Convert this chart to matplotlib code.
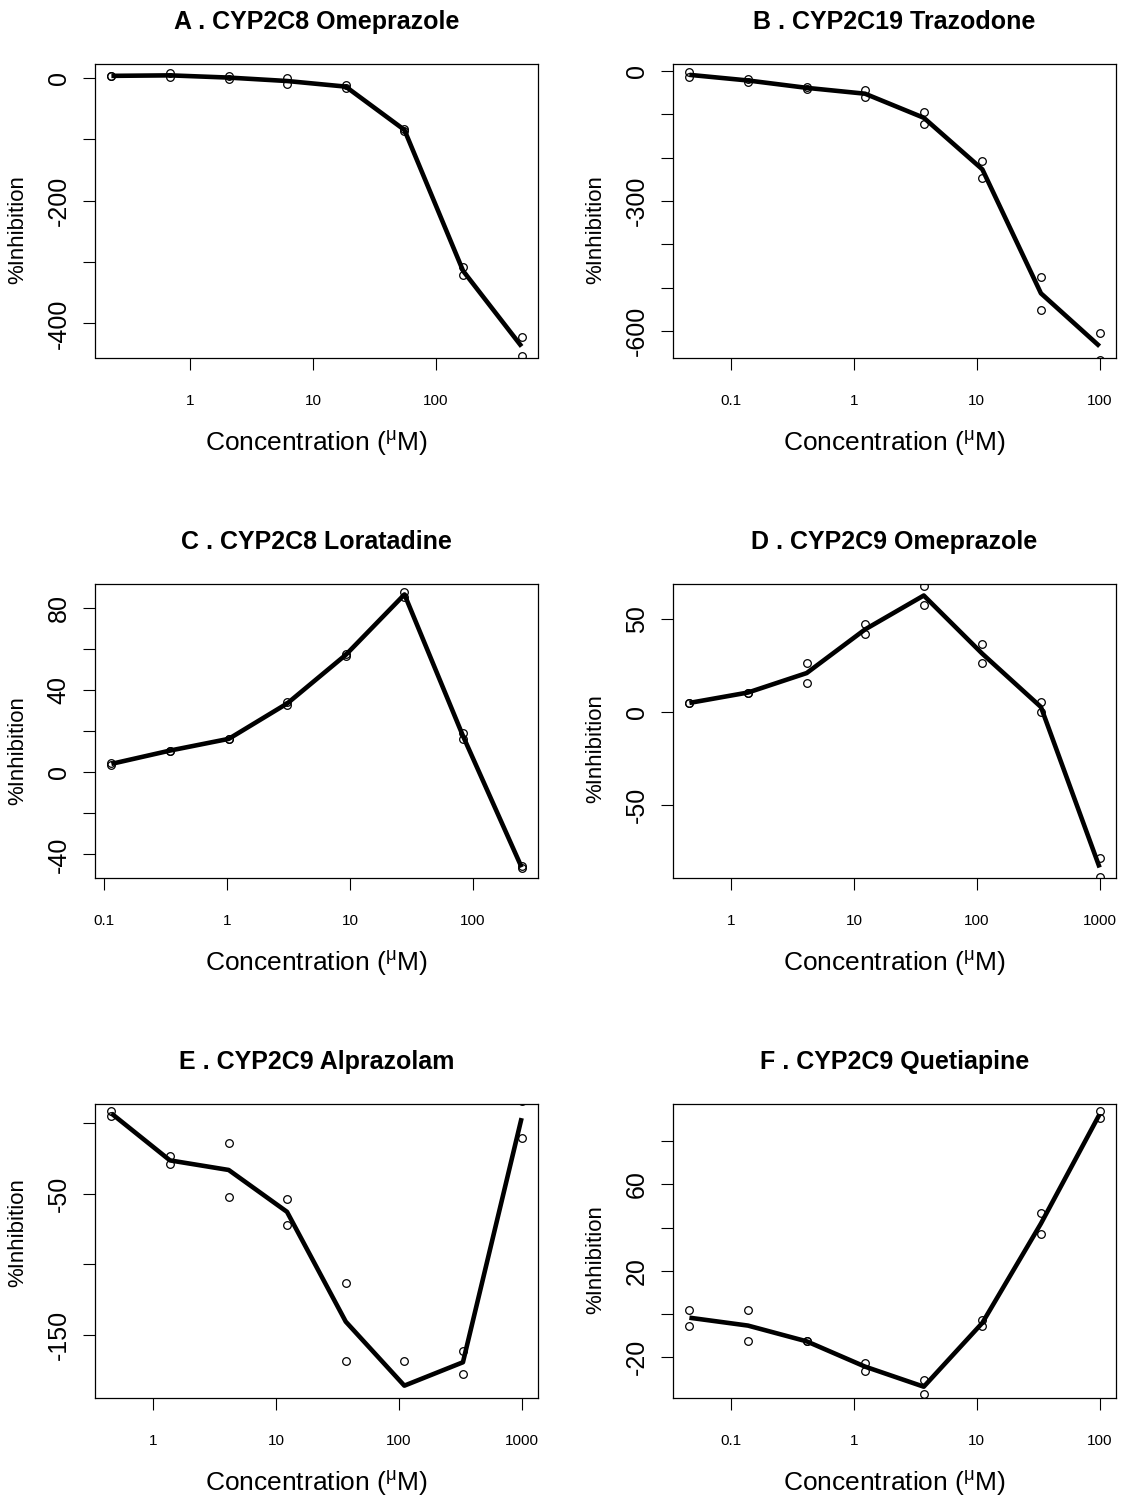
import matplotlib
matplotlib.use("Agg")
import matplotlib.pyplot as plt
from matplotlib.ticker import FixedLocator, FixedFormatter, NullLocator

plt.rcParams['font.family'] = ['Liberation Sans', 'DejaVu Sans']
plt.rcParams['mathtext.fontset'] = 'custom'
plt.rcParams['mathtext.rm'] = 'Liberation Sans'
plt.rcParams['mathtext.it'] = 'Liberation Sans:italic'

# ---------------- data ----------------
titles = ["A . CYP2C8 Omeprazole", "B . CYP2C19 Trazodone",
          "C . CYP2C8 Loratadine", "D . CYP2C9 Omeprazole",
          "E . CYP2C9 Alprazolam", "F . CYP2C9 Quetiapine"]

conc_A = [0.229, 0.686, 2.06, 6.17, 18.5, 55.6, 167, 500]
conc_B = [0.0457, 0.137, 0.412, 1.23, 3.70, 11.1, 33.3, 100]
conc_C = [0.114, 0.343, 1.03, 3.09, 9.26, 27.8, 83.3, 250]
conc_D = [0.457, 1.37, 4.12, 12.3, 37.0, 111, 333, 1000]
conc_E = [0.457, 1.37, 4.12, 12.3, 37.0, 111, 333, 1000]
conc_F = [0.0457, 0.137, 0.412, 1.23, 3.70, 11.1, 33.3, 100]

rep1_A = [3, 7, 3, -1, -12, -83, -308, -422]
rep2_A = [3, 0.6, -2.6, -9.7, -17, -87, -321, -453]
mean_A = [3, 3.8, 0.2, -5.4, -14.5, -85, -314.5, -437.5]

rep1_B = [-3, -19, -36, -44, -94, -207, -475, -604]
rep2_B = [-15, -25, -42, -61, -122, -247, -551, -666]
mean_B = [-9, -22, -39, -52.5, -108, -227, -513, -635]

rep1_C = [4.6, 10.6, 16.3, 34.2, 57.9, 87.7, 19.3, -45.6]
rep2_C = [3.6, 10.6, 16.3, 33.0, 56.6, 85.6, 16.0, -46.9]
mean_C = [4.1, 10.6, 16.3, 33.6, 57.3, 86.7, 17.7, -46.3]

rep1_D = [4.9, 10.5, 26.2, 47.2, 67.9, 36.6, 5.4, -78.7]
rep2_D = [4.9, 10.5, 15.7, 41.8, 57.7, 26.2, 0.0, -88.8]
mean_D = [4.9, 10.5, 21.0, 44.5, 62.8, 31.4, 2.7, -83.8]

rep1_E = [8.7, -23.3, -13.8, -53.8, -113.1, -168.3, -161.2, 16.0]
rep2_E = [5.4, -29.2, -52.4, -71.8, -168.3, -204.0, -177.8, -10.7]
mean_E = [7.0, -26.3, -33.1, -62.8, -140.7, -186.1, -169.5, 3.7]

rep1_F = [1.9, 1.9, -12.7, -22.5, -30.5, -2.6, 46.9, 94.0]
rep2_F = [-5.4, -12.7, -12.7, -26.3, -36.9, -5.7, 36.8, 90.9]
mean_F = [-1.75, -5.4, -12.7, -24.4, -33.7, -4.15, 41.85, 92.45]

xticks_A = [1, 10, 100]
xticks_B = [0.1, 1, 10, 100]
xticks_C = [0.1, 1, 10, 100]
xticks_D = [1, 10, 100, 1000]
xticks_E = [1, 10, 100, 1000]
xticks_F = [0.1, 1, 10, 100]
xlabels_A = ["1", "10", "100"]
xlabels_B = ["0.1", "1", "10", "100"]
xlabels_C = ["0.1", "1", "10", "100"]
xlabels_D = ["1", "10", "100", "1000"]
xlabels_E = ["1", "10", "100", "1000"]
xlabels_F = ["0.1", "1", "10", "100"]

yticks_A = [0, -100, -200, -300, -400]
ylabels_A = ["0", "", "-200", "", "-400"]
yticks_B = [0, -100, -200, -300, -400, -500, -600]
ylabels_B = ["0", "", "", "-300", "", "", "-600"]
yticks_C = [80, 60, 40, 20, 0, -20, -40]
ylabels_C = ["80", "", "40", "", "0", "", "-40"]
yticks_D = [50, 0, -50]
ylabels_D = ["50", "0", "-50"]
yticks_E = [0, -50, -100, -150]
ylabels_E = ["", "-50", "", "-150"]
yticks_F = [80, 60, 40, 20, 0, -20]
ylabels_F = ["", "60", "", "20", "", "-20"]

ylim_A = (-455.5, 22.3)
ylim_B = (-661, 16)
ylim_C = (-51.3, 91.8)
ylim_D = (-89.2, 69)
ylim_E = (-194.5, 13.7)
ylim_F = (-38.7, 97.2)

panels = [
    (conc_A, rep1_A, rep2_A, mean_A, xticks_A, xlabels_A, yticks_A, ylabels_A, ylim_A),
    (conc_B, rep1_B, rep2_B, mean_B, xticks_B, xlabels_B, yticks_B, ylabels_B, ylim_B),
    (conc_C, rep1_C, rep2_C, mean_C, xticks_C, xlabels_C, yticks_C, ylabels_C, ylim_C),
    (conc_D, rep1_D, rep2_D, mean_D, xticks_D, xlabels_D, yticks_D, ylabels_D, ylim_D),
    (conc_E, rep1_E, rep2_E, mean_E, xticks_E, xlabels_E, yticks_E, ylabels_E, ylim_E),
    (conc_F, rep1_F, rep2_F, mean_F, xticks_F, xlabels_F, yticks_F, ylabels_F, ylim_F),
]

# ---------------- layout ----------------
W, H = 1125, 1500
fig = plt.figure(figsize=(W / 100, H / 100), dpi=100)
fig.patch.set_facecolor("white")

col_left = [95, 673]
box_w = 443
row_top = [64, 584, 1104]
box_h = 293.5
ylab_shift = [19, 19, 20, 18, -18, 9]   # vertical offset of y-axis titles (px)


def fx(px):
    return px / W


def fy(py):
    return 1 - py / H


for i, (conc, r1, r2, mn, xt, xl, yt, yl, ylim) in enumerate(panels):
    r, c = divmod(i, 2)
    left, top = col_left[c], row_top[r]
    ax = fig.add_axes([fx(left), fy(top + box_h), box_w / W, box_h / H])
    ax.set_xscale("log")
    ax.plot(conc, mn, color="black", lw=3.3, solid_capstyle="butt",
            solid_joinstyle="round", zorder=3)
    ax.plot(conc, r1, linestyle="none", marker="o", ms=5.5, mfc="none",
            mec="black", mew=0.9, zorder=4)
    ax.plot(conc, r2, linestyle="none", marker="o", ms=5.5, mfc="none",
            mec="black", mew=0.9, zorder=4)
    ax.margins(x=0.04)
    ax.set_ylim(*ylim)
    ax.xaxis.set_major_locator(FixedLocator(xt))
    ax.xaxis.set_major_formatter(FixedFormatter(xl))
    ax.xaxis.set_minor_locator(NullLocator())
    ax.yaxis.set_major_locator(FixedLocator(yt))
    ax.yaxis.set_major_formatter(FixedFormatter(yl))
    ax.tick_params(axis="x", length=8.5, width=0.8, labelsize=11, pad=18,
                   direction="out")
    ax.tick_params(axis="y", length=8.5, width=0.8, labelsize=18, pad=9,
                   direction="out", labelrotation=90)
    for lab in ax.get_yticklabels():
        lab.set_va("center")
    for s in ax.spines.values():
        s.set_linewidth(0.9)

    cx = left + box_w / 2
    fig.text(fx(cx), fy(top - 35), titles[i], ha="center", va="baseline",
             fontsize=18, fontweight="bold")
    fig.text(fx(cx), fy(top + box_h + 93), r"Concentration ($^{\mathrm{\mu}}$M)",
             ha="center", va="baseline", fontsize=19)
    fig.text(fx(left - 77), fy(top + box_h / 2 + ylab_shift[i]), "%Inhibition",
             ha="center", va="center", rotation=90, fontsize=16)

fig.savefig("out.png", dpi=100, facecolor="white")
